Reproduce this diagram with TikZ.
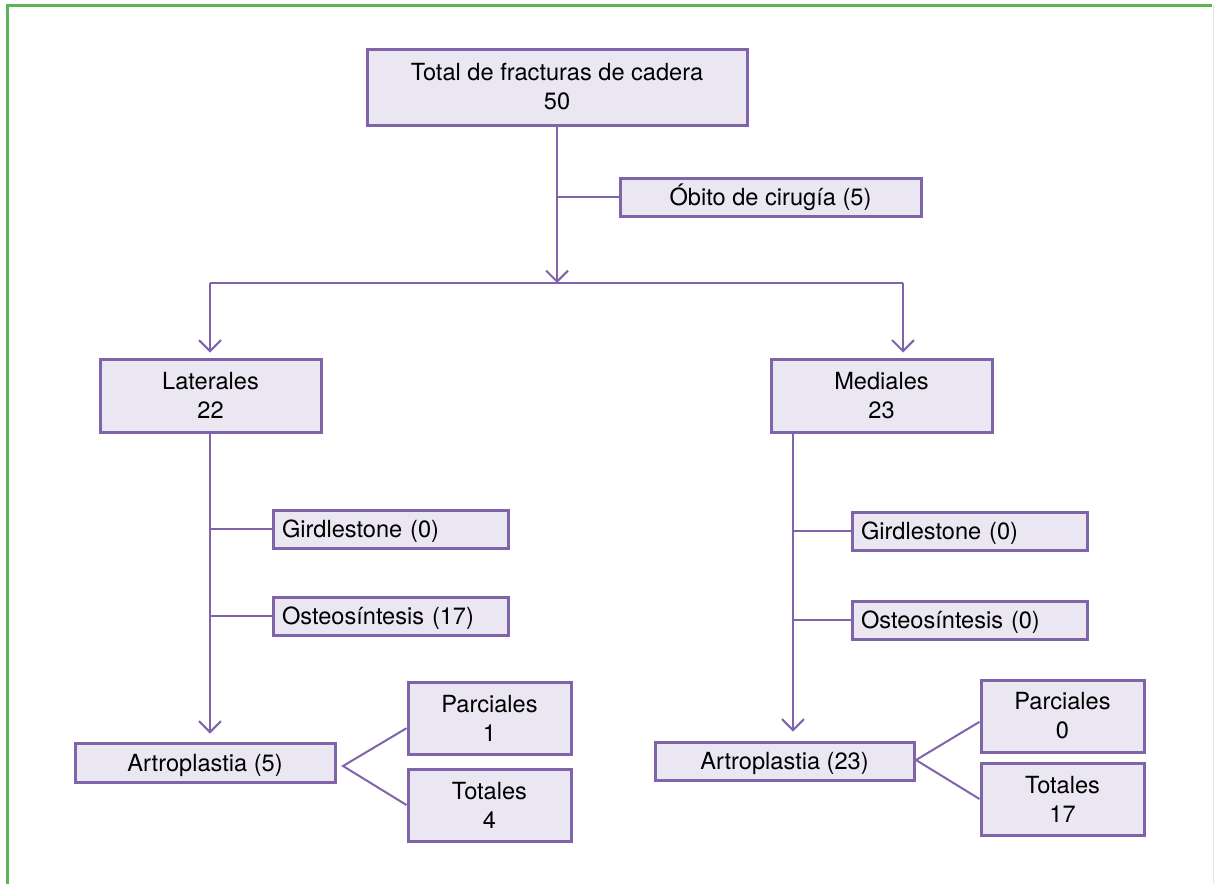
\documentclass[tikz,border=0pt]{standalone}
\usepackage{fontspec}
\setmainfont{TeX Gyre Heros}
\usetikzlibrary{arrows.meta}
\definecolor{colP}{RGB}{128,100,170}
\definecolor{colF}{RGB}{234,230,242}
\definecolor{colG}{RGB}{92,180,84}
\tikzstyle{box}=[draw=colP, fill=colF, line width=3pt, inner sep=0pt, align=center, font=\fontsize{23.6}{29}\selectfont]
\tikzstyle{sbox}=[box, text height=17pt, text depth=0pt, minimum height=38pt]
\tikzstyle{lbox}=[sbox, text width=217pt, inner xsep=9pt, align=left]
\tikzstyle{conn}=[line width=2pt, colP]
\tikzstyle{arr}=[conn, -{Straight Barb[length=11pt,width=22pt]}]

\begin{document}
\begin{tikzpicture}[x=1pt,y=-1pt]
			\useasboundingbox (0,0) rectangle (1214,884);
			\draw[colG, line width=3pt] (7,884) -- (7,5) -- (1212,5);
			\draw[colG!25, line width=1pt] (1213,5) -- (1213,884);
			% boxes
			\node[box, minimum width=380pt, minimum height=76pt] (tot) at (557,87) {Total de fracturas de cadera\\50};
			\node[sbox, minimum width=301pt] (obito) at (770.5,197) {Óbito de cirugía (5)};
			\node[box, minimum width=221pt, minimum height=73pt] (lat) at (210.5,395.5) {Laterales\\22};
			\node[box, minimum width=221pt, minimum height=73pt] (med) at (881.5,395.5) {Mediales\\23};
			\node[lbox] (gl) at (390.5,529) {Girdlestone (0)};
			\node[lbox] (ol) at (390.5,616) {Osteosíntesis (17)};
			\node[lbox] (gm) at (969.5,531) {Girdlestone (0)};
			\node[lbox] (om) at (969.5,620) {Osteosíntesis (0)};
			\node[sbox, minimum width=260pt, minimum height=39pt] (al) at (205,762.5) {Artroplastia (5)};
			\node[sbox, minimum width=259pt] (am) at (784.5,761) {Artroplastia (23)};
			\node[box, minimum width=163pt, minimum height=72pt] (pl) at (489.5,718) {Parciales\\1};
			\node[box, minimum width=163pt, minimum height=72pt] (tl) at (489.5,805) {Totales\\4};
			\node[box, minimum width=163pt, minimum height=72pt] (pm) at (1062.5,716) {Parciales\\0};
			\node[box, minimum width=163pt, minimum height=72pt] (tm) at (1062.5,799) {Totales\\17};
			% connectors
			\coordinate (sp) at (557,283);
			\coordinate (sl) at (210,283);
			\coordinate (sr) at (903,283);
			\coordinate (kr) at (793,283);
			\coordinate (fl) at (343,766);
			\coordinate (fr) at (916,760);
			\draw[arr] (tot.south) -- (sp);
			\draw[conn] (tot.south |- obito.west) -- (obito.west);
			\draw[conn] (sl) -- (sr);
			\draw[arr, shorten >=5pt] (sl) -- (sl |- lat.north);
			\draw[arr, shorten >=5pt] (sr) -- (sr |- med.north);
			\draw[arr, shorten >=8pt] (sl |- lat.south) -- (sl |- al.north);
			\draw[arr, shorten >=9pt] (kr |- med.south) -- (kr |- am.north);
			\draw[conn] (sl |- gl.west) -- (gl.west);
			\draw[conn] (sl |- ol.west) -- (ol.west);
			\draw[conn] (kr |- gm.west) -- (gm.west);
			\draw[conn] (kr |- om.west) -- (om.west);
			\draw[conn] (pl.187) -- (fl) -- (tl.west);
			\draw[conn] (pm.184) -- (fr) -- (tm.west);
		\end{tikzpicture}
\end{document}
